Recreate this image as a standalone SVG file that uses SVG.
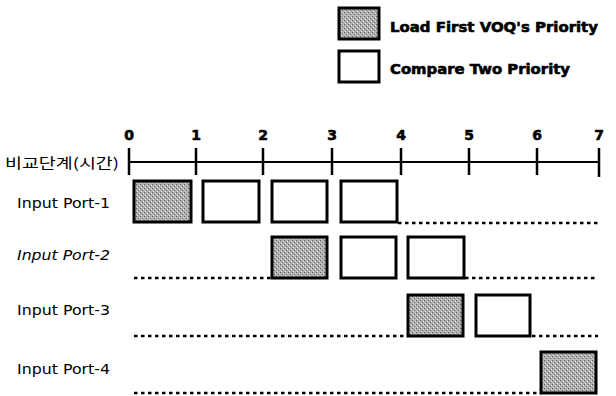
<svg xmlns="http://www.w3.org/2000/svg" width="616" height="396" viewBox="0 0 616 396">
<defs>
<pattern id="stip" width="4" height="4" patternUnits="userSpaceOnUse">
<rect width="4" height="4" fill="#b0b0b0"/>
<rect x="0" y="0" width="1" height="1" fill="#5e5e5e"/>
<rect x="2" y="2" width="1" height="1" fill="#6a6a6a"/>
<rect x="3" y="1" width="1" height="1" fill="#dcdcdc"/>
<rect x="1" y="3" width="1" height="1" fill="#e0e0e0"/>
</pattern>
</defs>
<style>
.load{fill:url(#stip);stroke:#000;stroke-width:3}
.cmp{fill:#fff;stroke:#000;stroke-width:3}
.dot{stroke:#000;stroke-width:2.5;stroke-dasharray:3.5 3.5;fill:none}
.axis{stroke:#000;stroke-width:2;fill:none}
.tick{stroke:#000;stroke-width:2.5}
.lbl{font-family:"DejaVu Sans",Verdana,sans-serif;font-size:14px;fill:#000}
.num{font-family:"DejaVu Sans","Liberation Sans",sans-serif;font-weight:bold;font-size:14px;fill:#000;stroke:#000;stroke-width:0.6;text-anchor:middle}
.leg{font-family:"DejaVu Sans","Liberation Sans",sans-serif;font-weight:bold;font-size:14px;fill:#000;stroke:#000;stroke-width:0.6}
.kr{font-family:"Noto Sans CJK KR",sans-serif;font-size:14px;fill:#000}
</style>
<g id="legend">
<rect class="load" x="339" y="8" width="40" height="31"/>
<text class="leg" x="390" y="32" textLength="208" lengthAdjust="spacingAndGlyphs">Load First VOQ's Priority</text>
<rect class="cmp" x="339" y="51" width="40" height="31"/>
<text class="leg" x="390" y="74" textLength="180" lengthAdjust="spacingAndGlyphs">Compare Two Priority</text>
</g>
<g id="axis">
<text class="kr" x="5" y="168" textLength="114" lengthAdjust="spacingAndGlyphs">비교단계(시간)</text>
<line class="axis" x1="129" y1="162" x2="598" y2="162"/>
<line class="tick" x1="129" y1="148" x2="129" y2="175"/>
<line class="tick" x1="196" y1="148" x2="196" y2="175"/>
<line class="tick" x1="263" y1="148" x2="263" y2="175"/>
<line class="tick" x1="332" y1="148" x2="332" y2="175"/>
<line class="tick" x1="401" y1="148" x2="401" y2="175"/>
<line class="tick" x1="469" y1="148" x2="469" y2="175"/>
<line class="tick" x1="537" y1="148" x2="537" y2="175"/>
<line class="tick" x1="599" y1="148" x2="599" y2="177"/>
<text class="num" x="129" y="140">0</text>
<text class="num" x="196" y="140">1</text>
<text class="num" x="263" y="140">2</text>
<text class="num" x="332" y="140">3</text>
<text class="num" x="401" y="140">4</text>
<text class="num" x="469" y="140">5</text>
<text class="num" x="537" y="140">6</text>
<text class="num" x="599" y="140">7</text>
</g>
<g id="labels">
<text class="lbl" x="17" y="208" textLength="93" lengthAdjust="spacingAndGlyphs">Input Port-1</text>
<text class="lbl" x="17" y="260" font-style="italic" textLength="93" lengthAdjust="spacingAndGlyphs">Input Port-2</text>
<text class="lbl" x="17" y="315" textLength="93" lengthAdjust="spacingAndGlyphs">Input Port-3</text>
<text class="lbl" x="17" y="374" textLength="93" lengthAdjust="spacingAndGlyphs">Input Port-4</text>
</g>
<g id="port1">
<rect class="load" x="134" y="181" width="57" height="41"/>
<rect class="cmp" x="203" y="181" width="56" height="41"/>
<rect class="cmp" x="272" y="181" width="55" height="41"/>
<rect class="cmp" x="341" y="181" width="56" height="41"/>
</g>
<g id="port2">
<rect class="load" x="272" y="237" width="55" height="41"/>
<rect class="cmp" x="341" y="237" width="55" height="41"/>
<rect class="cmp" x="408" y="237" width="56" height="41"/>
</g>
<g id="port3">
<rect class="load" x="408" y="295" width="55" height="41"/>
<rect class="cmp" x="476" y="295" width="54" height="41"/>
</g>
<g id="port4">
<rect class="load" x="541" y="352" width="55" height="41"/>
</g>
<g id="connectors">
<line class="dot" x1="398" y1="223" x2="598" y2="223"/>
<line class="dot" x1="134" y1="278" x2="272" y2="278"/>
<line class="dot" x1="465" y1="278" x2="598" y2="278"/>
<line class="dot" x1="134" y1="336" x2="408" y2="336"/>
<line class="dot" x1="532" y1="336" x2="598" y2="336"/>
<line class="dot" x1="134" y1="393" x2="541" y2="393"/>
</g>
</svg>
